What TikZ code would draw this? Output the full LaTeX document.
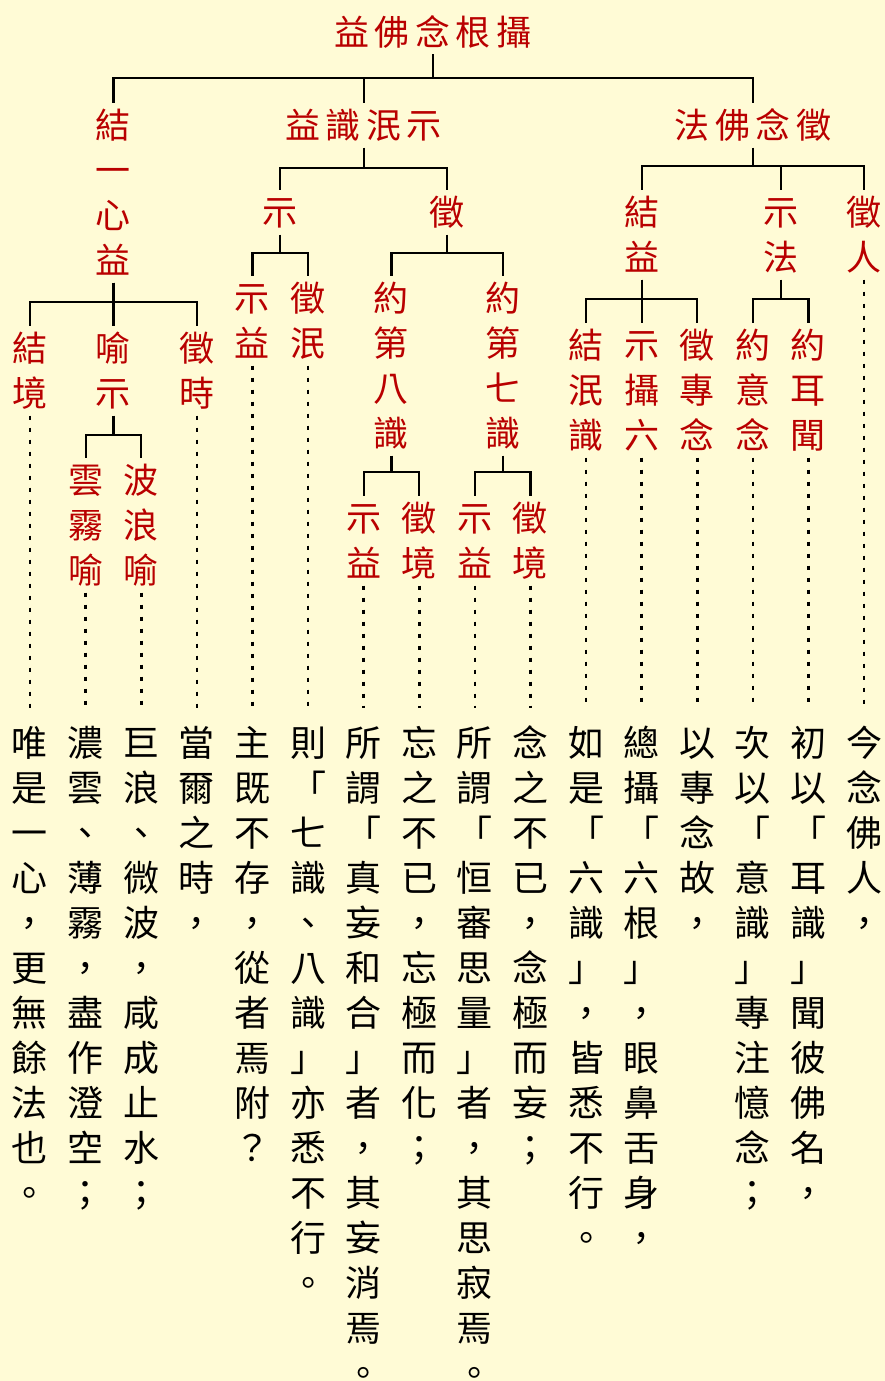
\documentclass[tikz,border=0pt]{standalone}
\usepackage{fontspec}
\newfontfamily\cjk{Noto Sans CJK TC}
\definecolor{bgyellow}{RGB}{255,251,214}
\definecolor{labred}{RGB}{185,0,0}
% one character per 45pt cell, top to bottom
\newcommand\vcol[1]{\vbox{\offinterlineskip\vcolA#1\relax}}
\def\vcolA#1{\ifx\relax#1\else\hbox to 45pt{\hss\vrule height 36pt depth 9pt width 0pt #1\hss}\expandafter\vcolA\fi}
% one character per cell, left to right
\newcommand\hrow[1]{\hrowA#1\relax}
\def\hrowA#1{\ifx\relax#1\else\hbox to 40.5pt{\hss\vrule height 36pt depth 9pt width 0pt #1\hss}\expandafter\hrowA\fi}

\begin{document}
\begin{tikzpicture}[x=1pt,y=-1pt,
    lab/.style={text=labred,font=\cjk\fontsize{35}{45}\selectfont,inner sep=0pt,outer sep=0pt},
    vlab/.style={lab,anchor=north},
    txt/.style={text=black,font=\cjk\fontsize{36}{45}\selectfont,inner sep=0pt,outer sep=0pt,anchor=north},
    br/.style={line width=2.2pt},
    dots/.style={line width=2.6pt,dash pattern=on 4pt off 8pt,shorten >=12pt}]
    \useasboundingbox (0,0) rectangle (885,1381);
    \fill[bgyellow] (0,0) rectangle (885,1381);

    % upper levels
    \node[lab] (n0) at (433,32) {\hrow{益佛念根攝}};
    \node[vlab] (a) at (113.4,102.5) {\vcol{結一心益}};
    \node[lab] (b) at (363.6,125) {\hrow{益識泯示}};
    \node[lab] (c) at (753,125) {\hrow{法佛念徵}};
    \node[vlab] (b1) at (280.2,189.5) {\vcol{示}};
    \node[vlab] (b2) at (447,189.5) {\vcol{徵}};
    \node[vlab] (b21) at (391.4,275.5) {\vcol{約第八識}};
    \node[vlab] (b22) at (502.6,275.5) {\vcol{約第七識}};
    \node[vlab] (a2) at (113.4,325.5) {\vcol{喻示}};
    \node[vlab] (c1) at (641.6,189.5) {\vcol{結益}};
    \node[vlab] (c2) at (780.6,189.5) {\vcol{示法}};

    % leaves
    \node[vlab] (l1) at (30,325.5) {\vcol{結境}};
    \node[vlab] (l2) at (85.6,457.5) {\vcol{雲霧喻}};
    \node[vlab] (l3) at (141.2,457.5) {\vcol{波浪喻}};
    \node[vlab] (l4) at (196.8,325.5) {\vcol{徵時}};
    \node[vlab] (l5) at (252.4,275.5) {\vcol{示益}};
    \node[vlab] (l6) at (308,275.5) {\vcol{徵泯}};
    \node[vlab] (l7) at (363.6,495.5) {\vcol{示益}};
    \node[vlab] (l8) at (419.2,495.5) {\vcol{徵境}};
    \node[vlab] (l9) at (474.8,495.5) {\vcol{示益}};
    \node[vlab] (l10) at (530.4,495.5) {\vcol{徵境}};
    \node[vlab] (l11) at (586,322.5) {\vcol{結泯識}};
    \node[vlab] (l12) at (641.6,322.5) {\vcol{示攝六}};
    \node[vlab] (l13) at (697.2,322.5) {\vcol{徵專念}};
    \node[vlab] (l14) at (752.8,322.5) {\vcol{約意念}};
    \node[vlab] (l15) at (808.4,322.5) {\vcol{約耳聞}};
    \node[vlab] (l16) at (864,189.5) {\vcol{徵人}};

    % text columns
    \node[txt] (t1) at (30,720) {\vcol{唯是一心，更無餘法也。}};
    \node[txt] (t2) at (85.6,720) {\vcol{濃雲、薄霧，盡作澄空；}};
    \node[txt] (t3) at (141.2,720) {\vcol{巨浪、微波，咸成止水；}};
    \node[txt] (t4) at (196.8,720) {\vcol{當爾之時，}};
    \node[txt] (t5) at (252.4,720) {\vcol{主既不存，從者焉附？}};
    \node[txt] (t6) at (308,720) {\vcol{則「七識、八識」亦悉不行。}};
    \node[txt] (t7) at (363.6,720) {\vcol{所謂「真妄和合」者，其妄消焉。}};
    \node[txt] (t8) at (419.2,720) {\vcol{忘之不已，忘極而化；}};
    \node[txt] (t9) at (474.8,720) {\vcol{所謂「恒審思量」者，其思寂焉。}};
    \node[txt] (t10) at (530.4,720) {\vcol{念之不已，念極而妄；}};
    \node[txt] (t11) at (586,720) {\vcol{如是「六識」，皆悉不行。}};
    \node[txt] (t12) at (641.6,720) {\vcol{總攝「六根」，眼鼻舌身，}};
    \node[txt] (t13) at (697.2,720) {\vcol{以專念故，}};
    \node[txt] (t14) at (752.8,720) {\vcol{次以「意識」專注憶念；}};
    \node[txt] (t15) at (808.4,720) {\vcol{初以「耳識」聞彼佛名，}};
    \node[txt] (t16) at (864,720) {\vcol{今念佛人，}};

    % brackets
    \draw[br] (n0.south) -- ++(0,23.5) -| (a.north);
    \draw[br] (n0.south) ++(0,23.5) -| (b.north);
    \draw[br] (n0.south) ++(0,23.5) -| (c.north);
    \draw[br] (a.south) -- ++(0,19.5) -| (l1.north);
    \draw[br] (a.south) ++(0,19.5) -| (l4.north);
    \draw[br] (a.south) -- (a2.north);
    \draw[br] (a2.south) -- ++(0,19.5) -| (l2.north);
    \draw[br] (a2.south) ++(0,19.5) -| (l3.north);
    \draw[br] (b.south) -- ++(0,20.5) -| (b1.north);
    \draw[br] (b.south) ++(0,20.5) -| (b2.north);
    \draw[br] (b1.south) -- ++(0,18.5) -| (l5.north);
    \draw[br] (b1.south) ++(0,18.5) -| (l6.north);
    \draw[br] (b2.south) -- ++(0,18.5) -| (b21.north);
    \draw[br] (b2.south) ++(0,18.5) -| (b22.north);
    \draw[br] (b21.south) -- ++(0,16.5) -| (l7.north);
    \draw[br] (b21.south) ++(0,16.5) -| (l8.north);
    \draw[br] (b22.south) -- ++(0,16.5) -| (l9.north);
    \draw[br] (b22.south) ++(0,16.5) -| (l10.north);
    \draw[br] (c.south) -- ++(0,18.5) -| (c1.north);
    \draw[br] (c.south) ++(0,18.5) -| (c2.north);
    \draw[br] (c.south) ++(0,18.5) -| (l16.north);
    \draw[br] (c1.south) -- ++(0,19.5) -| (l11.north);
    \draw[br] (c1.south) ++(0,19.5) -| (l13.north);
    \draw[br] (c1.south) -- (l12.north);
    \draw[br] (c2.south) -- ++(0,19.5) -| (l14.north);
    \draw[br] (c2.south) ++(0,19.5) -| (l15.north);

    % dotted leaders
    \draw[dots] (l1.south) -- (t1.north);
    \draw[dots] (l2.south) -- (t2.north);
    \draw[dots] (l3.south) -- (t3.north);
    \draw[dots] (l4.south) -- (t4.north);
    \draw[dots] (l5.south) -- (t5.north);
    \draw[dots] (l6.south) -- (t6.north);
    \draw[dots] (l7.south) -- (t7.north);
    \draw[dots] (l8.south) -- (t8.north);
    \draw[dots] (l9.south) -- (t9.north);
    \draw[dots] (l10.south) -- (t10.north);
    \draw[dots] (l11.south) -- (t11.north);
    \draw[dots] (l12.south) -- (t12.north);
    \draw[dots] (l13.south) -- (t13.north);
    \draw[dots] (l14.south) -- (t14.north);
    \draw[dots] (l15.south) -- (t15.north);
    \draw[dots] (l16.south) -- (t16.north);
\end{tikzpicture}
\end{document}
